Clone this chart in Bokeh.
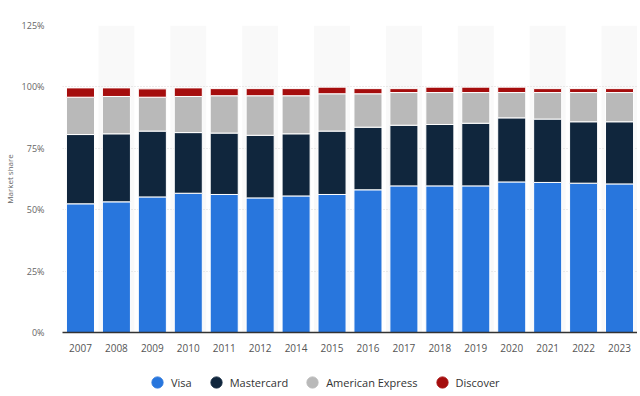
from bokeh.plotting import figure
from bokeh.models import (ColumnDataSource, Legend, LegendItem, FixedTicker,
                          PrintfTickFormatter, Range1d, FactorRange)
from bokeh.layouts import column
from bokeh.embed import file_html
from bokeh.resources import INLINE

years = ["2007", "2008", "2009", "2010", "2011", "2012", "2014", "2015",
         "2016", "2017", "2018", "2019", "2020", "2021", "2022", "2023"]
visa = [52.4, 53.2, 55.2, 56.7, 56.2, 54.8, 55.6, 56.2,
        58.1, 59.7, 59.7, 59.7, 61.3, 61.1, 60.8, 60.5]
mastercard = [28.2, 27.7, 26.8, 24.7, 25.0, 25.5, 25.3, 25.8,
              25.5, 24.7, 25.0, 25.5, 26.1, 25.8, 25.0, 25.3]
amex = [15.2, 15.2, 13.8, 14.7, 15.2, 16.1, 15.5, 15.2,
        13.6, 13.3, 13.0, 12.5, 10.3, 10.8, 11.9, 11.9]
discover = [3.8, 3.5, 3.4, 3.5, 2.9, 2.9, 2.9, 2.7,
            2.1, 1.6, 2.2, 2.2, 2.2, 1.6, 1.6, 1.6]
series = ["Visa", "Mastercard", "American Express", "Discover"]
colors = ["#2876dd", "#10263d", "#b9b9b9", "#a50d0d"]
y_ticks = [0, 25, 50, 75, 100, 125]

FONT = "Open Sans"

src = ColumnDataSource(dict(year=years, Visa=visa, Mastercard=mastercard,
                            **{"American Express": amex}, Discover=discover))

p = figure(x_range=FactorRange(*years, range_padding=0),
           y_range=Range1d(y_ticks[0], y_ticks[-1]),
           frame_width=575, frame_height=307,
           output_backend="svg", toolbar_location=None,
           min_border_left=50, min_border_right=0, min_border_top=25,
           min_border_bottom=26)
p.outline_line_color = None
p.background_fill_color = "white"
p.border_fill_color = "white"

# alternating background bands
band_years = years[1::2]
bsrc = ColumnDataSource(dict(x=band_years, top=[y_ticks[-1]] * len(band_years)))
p.vbar(x="x", top="top", bottom=0, width=1.0, source=bsrc,
       fill_color="#f9f9f9", line_color=None, level="image")

p.vbar_stack(series, x="year", width=0.78, source=src, color=colors,
             line_color="white", line_width=1)

# y axis
p.yaxis.ticker = FixedTicker(ticks=y_ticks)
p.yaxis.formatter = PrintfTickFormatter(format="%d%%")
p.yaxis.axis_line_color = None
p.yaxis.major_tick_line_color = None
p.yaxis.minor_tick_line_color = None
p.yaxis.major_label_text_font = FONT
p.yaxis.major_label_text_font_size = "9px"
p.yaxis.major_label_text_color = "#666666"
p.yaxis.major_label_standoff = 12
p.yaxis.axis_label = "Market share"
p.yaxis.axis_label_text_font = FONT
p.yaxis.axis_label_text_font_size = "8px"
p.yaxis.axis_label_text_font_style = "normal"
p.yaxis.axis_label_text_color = "#666666"
p.yaxis.axis_label_standoff = 4

# x axis
p.xaxis.axis_line_color = "#333333"
p.xaxis.axis_line_width = 1.5
p.xaxis.major_tick_line_color = None
p.xaxis.minor_tick_line_color = None
p.xaxis.major_label_text_font = FONT
p.xaxis.major_label_text_font_size = "10px"
p.xaxis.major_label_text_color = "#555555"
p.xaxis.major_label_standoff = 5

p.xgrid.grid_line_color = None
p.ygrid.grid_line_color = "#d8d8d8"
p.ygrid.grid_line_dash = "1 2"

# legend strip (circle markers) in its own small figure
lf = figure(width=625, height=38, output_backend="svg", toolbar_location=None,
            min_border=0, x_axis_location=None, y_axis_location=None,
            x_range=Range1d(0, 1), y_range=Range1d(0, 1))
lf.outline_line_color = None
lf.xgrid.visible = False
lf.ygrid.visible = False
nan = float("nan")
items = []
for name, c in zip(series, colors):
    r = lf.scatter(x=[nan], y=[nan], marker="circle", size=12,
                   fill_color=c, line_color=c)
    items.append(LegendItem(label=name, renderers=[r]))
legend = Legend(items=items, orientation="horizontal", location=(81, 0),
                label_text_font=FONT, label_text_font_size="11px",
                label_text_color="#333333", glyph_width=28, glyph_height=28,
                label_height=14, spacing=10, label_standoff=-4,
                border_line_color=None, background_fill_alpha=0,
                margin=0, padding=0)
lf.add_layout(legend, "center")

open("out.html", "w").write(file_html(column(p, lf), INLINE))
